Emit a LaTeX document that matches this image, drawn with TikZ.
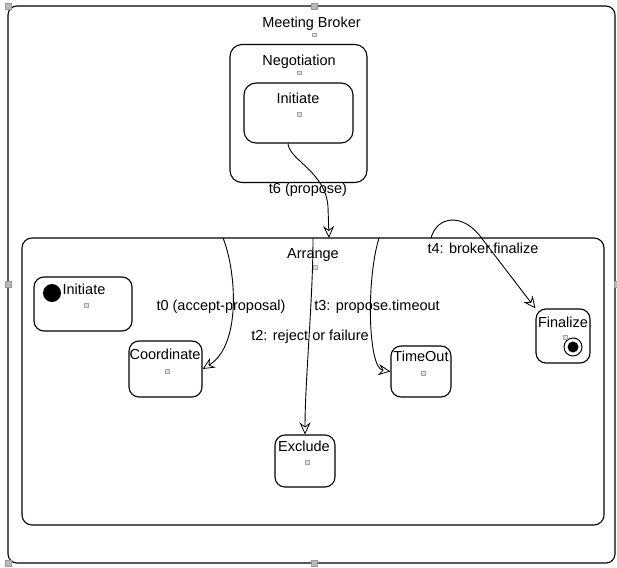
\documentclass[tikz,border=0pt]{standalone}
\usepackage{fontspec}
\setmainfont{Liberation Sans}
\usetikzlibrary{arrows.meta}
\begin{document}
\begin{tikzpicture}[x=1pt,y=-1pt,
  lbl/.style={font=\fontsize{14.5}{17}\selectfont, inner sep=0pt, text height=10.4pt, text depth=0pt},
  statebox/.style={draw, line width=1.1pt, rounded corners=#1, inner sep=0pt},
  statebox/.default=10pt,
  dotmark/.style={draw=gray!70, fill=gray!25, line width=0.5pt, minimum size=3.5pt, inner sep=0pt},
  handle/.style={draw=gray!80, fill=gray!55, line width=0.5pt, minimum size=6pt, inner sep=0pt},
  trans/.style={line width=0.9pt, -{Stealth[open, length=12pt, width=11pt, inset=4pt, line width=0.8pt]}}]
\useasboundingbox (0,0) rectangle (617,567);

% composite states
\node[statebox=9pt, minimum width=607pt, minimum height=557pt] (broker) at (311.5,284.5) {};
\node[statebox=12pt, minimum width=137pt, minimum height=138pt] (neg) at (298.5,113.5) {};
\node[statebox=12pt, minimum width=109pt, minimum height=60pt] (negini) at (298.5,113) {};
\node[statebox=10pt, minimum width=582pt, minimum height=287pt] (arrange) at (313,381.5) {};

% simple states inside Arrange
\node[statebox, minimum width=98pt, minimum height=54pt] (arrini) at (83,304) {};
\node[statebox, minimum width=73pt, minimum height=56pt] (coord) at (165.5,369) {};
\node[statebox, minimum width=60pt, minimum height=52pt] (excl) at (305,461) {};
\node[statebox, minimum width=60pt, minimum height=51pt] (timeout) at (421,371.5) {};
\node[statebox, minimum width=54pt, minimum height=54pt] (fin) at (563,336) {};

% pseudo states
\node[circle, fill=black, minimum size=18pt, inner sep=0pt] (initdot) at (52,293) {};
\node[circle, draw, fill=white, line width=1pt, minimum size=18pt, inner sep=0pt] (finring) at (573,347) {};
\node[circle, fill=black, minimum size=11pt, inner sep=0pt] (findot) at (finring) {};

% state names
\node[lbl] (tbroker) at (311.5,22) {Meeting Broker};
\node[lbl] (tneg) at (299,60) {Negotiation};
\node[lbl] (tnegini) at (298,98) {Initiate};
\node[lbl] (tarr) at (313,253) {Arrange};
\node[lbl] (tarrini) at (84,289) {Initiate};
\node[lbl] (tcoord) at (165,354) {Coordinate};
\node[lbl] (texcl) at (304,446) {Exclude};
\node[lbl] (ttime) at (421,356) {TimeOut};
\node[lbl] (tfin) at (563,322) {Finalize};

% centre marks
\node[dotmark] (dbroker) at (314,35) {};
\node[dotmark] (dneg) at (299,73) {};
\node[dotmark] (dnegini) at (299,114) {};
\node[dotmark] (darr) at (315,267) {};
\node[dotmark] (darrini) at (86,305) {};
\node[dotmark] (dcoord) at (167,371) {};
\node[dotmark] (dexcl) at (307,462) {};
\node[dotmark] (dtime) at (423,373) {};
\node[dotmark] (dfin) at (565,337) {};

% selection handles of the outer state
\node[handle] (h1) at (8,6) {};
\node[handle] (h2) at (314,6) {};
\node[handle] (h3) at (8,284) {};
\node[handle] (h4) at (617,284) {};
\node[handle] (h5) at (8,563) {};
\node[handle] (h6) at (314,563) {};

% transition anchors on the Arrange border
\coordinate (t6in) at (329,238);
\coordinate (t0out) at (223,238);
\coordinate (t2out) at (313,238);
\coordinate (t3out) at (379,238);
\coordinate (t4out) at (431,238);

% transitions
\draw[trans] ([xshift=-10.5pt]negini.south) .. controls (289,160) and (326,172) .. (328,207) -- (t6in);
\draw[trans] (t0out) .. controls (236,270) and (242,345) .. (coord.east);
\draw[trans] (t2out) .. controls (313,300) and (305,380) .. (excl.north);
\draw[trans] (t3out) .. controls (366,280) and (368,368) .. (timeout.west);
\draw[trans] (t4out) .. controls (437,216) and (462,213) .. (480,236) -- (fin.north west);

% transition labels
\node[lbl] (l6) at (308,188) {t6 (propose)};
\node[lbl] (l0) at (221,305) {t0 (accept-proposal)};
\node[lbl] (l2) at (310,335) {t2: reject or failure};
\node[lbl] (l3) at (377,305) {t3: propose.timeout};
\node[lbl] (l4) at (483,248) {t4: broker.finalize};
\end{tikzpicture}
\end{document}
